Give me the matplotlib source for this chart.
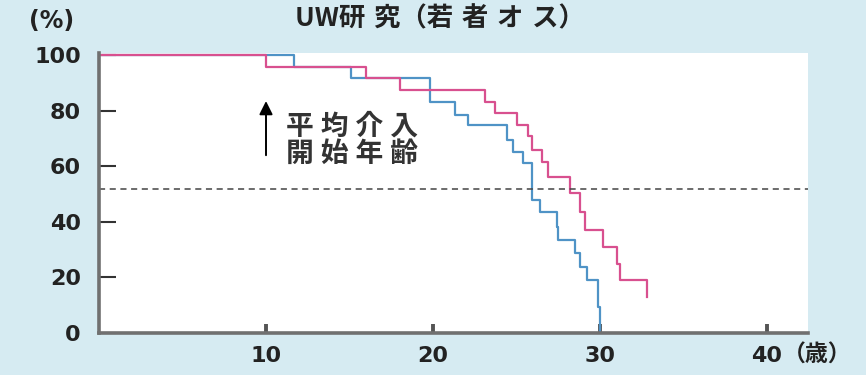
import matplotlib
matplotlib.use("Agg")
import matplotlib.pyplot as plt

plt.rcParams['font.family'] = ['Noto Sans CJK JP', 'DejaVu Sans']

# survival steps (age in years, % surviving)
pink_age = [0, 10.0, 16.0, 18.0, 23.1, 23.7, 25.0, 25.7, 25.9, 26.5, 26.9,
            28.2, 28.8, 29.1, 30.2, 31.0, 31.2, 32.8]
pink_pct = [100, 95.8, 91.7, 87.5, 83.3, 79.2, 75.0, 70.8, 66.0, 61.5, 56.0,
            50.4, 43.5, 37.0, 31.0, 25.0, 19.0, 13.0]

blue_age = [0, 11.7, 15.1, 19.8, 21.3, 22.1, 24.4, 24.8, 25.4, 25.9, 26.4,
            27.4, 27.5, 28.5, 28.8, 29.2, 29.9, 30.0]
blue_pct = [100, 95.8, 91.7, 83.3, 78.4, 74.8, 69.4, 65.0, 61.2, 47.8, 43.5,
            38.1, 33.5, 28.8, 23.7, 19.0, 9.4, 0]

x_ticks = [10, 20, 30, 40]
y_ticks = [0, 20, 40, 60, 80, 100]
median_line = 52
intervention_age = 10

title_parts = ['UW', '研究', '若者オス']
note = ['平均介入', '開始年齢']

bg = '#d6ebf2'
txt = '#222222'


def spaced(s, sp='\u2004'):
    # pad CJK letters apart a little
    return sp.join(s)


fig = plt.figure(figsize=(8.66, 3.75), dpi=100, facecolor=bg)
ax = fig.add_axes([0.1143, 0.112, 0.8187, 0.7467])
ax.set_facecolor('white')

ax.plot(blue_age, blue_pct, drawstyle='steps-post', color='#4f93c6', lw=1.6)
ax.plot(pink_age, pink_pct, drawstyle='steps-post', color='#d8508f', lw=1.6)
ax.axhline(median_line, color='#444444', lw=1.1, ls=(0, (4, 3)))

# arrow + label for mean intervention age
ax.annotate('', xy=(intervention_age, 84.5), xytext=(intervention_age, 63),
            arrowprops=dict(arrowstyle='-|>,head_width=0.4,head_length=0.8',
                            color='black', lw=1.4))
ax.text(11.2, 79.5, '\n'.join(spaced(n, '\u2005') for n in note), fontsize=20,
        fontweight='bold', color='#333333', va='top', ha='left', linespacing=1.0)

ax.set_xlim(0, 42.45)
ax.set_ylim(0, 100.8)
ax.set_xticks(x_ticks)
ax.set_yticks(y_ticks)
for s in ['top', 'right']:
    ax.spines[s].set_visible(False)
for s in ['left', 'bottom']:
    ax.spines[s].set_color('#707070')
    ax.spines[s].set_linewidth(2.6)
ax.tick_params(axis='x', direction='in', length=6.5, width=2.8, pad=9,
               color='#555555', labelcolor=txt)
ax.tick_params(axis='y', direction='in', length=12, width=1.5, pad=13,
               color='#333333', labelcolor=txt)
for lab in ax.get_xticklabels() + ax.get_yticklabels():
    lab.set_fontfamily('DejaVu Sans')
    lab.set_fontweight('bold')
    lab.set_fontsize(16)

title = title_parts[0] + spaced(title_parts[1]) + '（' + spaced(title_parts[2]) + '）'
fig.text(440 / 866, 1 - 19 / 375, title, fontsize=19,
         fontweight='bold', color=txt, ha='center', va='center')
fig.text(52 / 866, 1 - 21 / 375, '(%)', fontsize=17, fontweight='bold', color=txt,
         family='DejaVu Sans', ha='center', va='center')
fig.text(817 / 866, 1 - 355 / 375, '（歳）', fontsize=16.5, fontweight='bold',
         color=txt, ha='center', va='center')

fig.savefig('out.png', dpi=100, facecolor=bg)
